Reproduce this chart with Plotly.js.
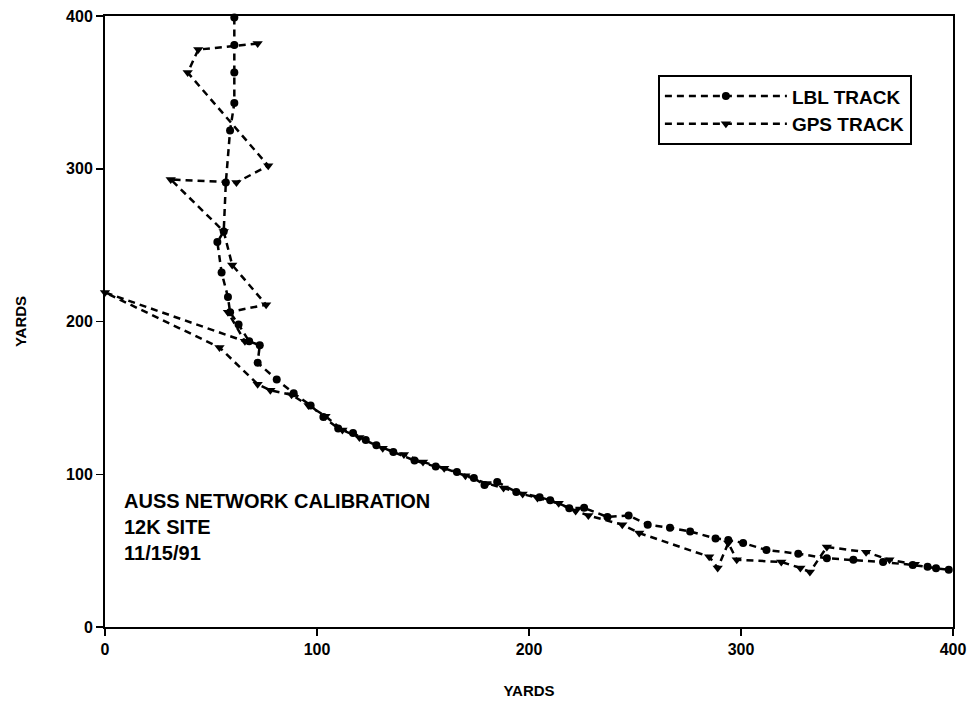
<!DOCTYPE html>
<html>
<head>
<meta charset="utf-8">
<script src="https://cdn.plot.ly/plotly-3.0.1.min.js"></script>
<style>
  html, body { margin: 0; padding: 0; background: #fff; }
  #chart { width: 971px; height: 707px; }
</style>
</head>
<body>
<div id="chart"></div>
<script>
// LBL acoustic navigation fixes (yards east / yards north)
const lblX = [61, 61, 61, 61, 59, 57, 56, 53, 55, 58, 59, 63, 68, 73, 72, 81, 89, 97, 103, 110, 117, 123, 128, 136, 146, 156, 166, 174, 179, 185, 194, 205, 210, 219, 226, 237, 247, 256, 266.5, 276, 288, 294, 301, 312, 327, 340.5, 353, 367, 381, 388, 392, 398];
const lblY = [399, 381, 363, 343, 325, 291, 259, 252, 232, 216, 206, 198, 187, 184.5, 173, 162, 153, 145, 137.5, 130, 127, 122.4, 119, 114.6, 109, 105, 101.5, 97.5, 93, 95, 88.4, 85, 83, 77.8, 78, 72, 73, 67, 65, 62.5, 58, 57, 55, 50.4, 48, 45, 44, 42.5, 40.6, 39.5, 38.5, 37.4];

// GPS fixes (yards east / yards north)
const gpsX = [72, 44, 39, 77, 62, 31, 56, 60, 76, 58, 66, 0, 54, 72, 78, 88, 96, 104, 112, 120, 131, 141, 150, 160, 170, 180, 188, 197, 204, 214, 222, 228, 244, 252, 285, 289, 294, 298, 319, 328, 332.5, 340.5, 359, 370, 382];
const gpsY = [382, 378, 363, 302, 291, 293, 259, 237, 211, 206, 187, 219, 183, 159, 155, 152, 145, 138, 129, 124, 117, 113, 108, 104, 99, 94, 91, 87, 84.5, 81, 76, 73, 67, 61.5, 46, 38.6, 55, 44, 42.6, 38.6, 36, 52.4, 49, 44, 41];

const seriesNames = ['LBL TRACK', 'GPS TRACK'];
const xTicks = [0, 100, 200, 300, 400];
const yTicks = [0, 100, 200, 300, 400];
const noteLines = ['AUSS NETWORK CALIBRATION', '12K SITE', '11/15/91'];

const font = 'Liberation Sans, Arial, Helvetica, sans-serif';
const dashed = { color: '#000', width: 2.5, dash: '7px,5px' };

const traces = [
  {
    x: lblX, y: lblY, name: seriesNames[0], type: 'scatter', mode: 'lines+markers',
    line: dashed,
    marker: { symbol: 'circle', size: 8, color: '#000' },
    cliponaxis: false
  },
  {
    x: gpsX, y: gpsY, name: seriesNames[1], type: 'scatter', mode: 'lines+markers',
    line: dashed,
    marker: { symbol: 'triangle-down', size: 9, color: '#000' },
    cliponaxis: false
  }
];

const axisCommon = {
  showgrid: false, zeroline: false,
  showline: true, linecolor: '#000', linewidth: 2, mirror: true,
  ticks: 'outside', ticklen: 7, tickwidth: 1.5, tickcolor: '#000',
  tickfont: { family: font, size: 16, color: '#000', weight: 'bold' }
};

const layout = {
  width: 971, height: 707,
  margin: { l: 105, r: 18, t: 16, b: 80 },
  paper_bgcolor: '#fff', plot_bgcolor: '#fff',
  font: { family: font, color: '#000' },
  xaxis: Object.assign({}, axisCommon, {
    range: [0, 400], tickvals: xTicks, ticktext: xTicks.map(String),
    title: { text: 'YARDS', font: { family: font, size: 15, color: '#000', weight: 'bold' }, standoff: 28 }
  }),
  yaxis: Object.assign({}, axisCommon, {
    range: [0, 400], tickvals: yTicks, ticktext: yTicks.map(String),
    title: { text: 'YARDS', font: { family: font, size: 15, color: '#000', weight: 'bold' }, standoff: 36 }
  }),
  legend: {
    x: 0.652, y: 0.903, xanchor: 'left', yanchor: 'top',
    bgcolor: '#fff', bordercolor: '#000', borderwidth: 2,
    font: { family: font, size: 19, color: '#000', weight: 'bold' },
    itemwidth: 122, tracegroupgap: 0,
    entrywidth: 278, entrywidthmode: 'pixels'
  },
  annotations: [{
    xref: 'x', yref: 'y', x: 8, y: 91, xanchor: 'left', yanchor: 'top',
    text: noteLines.join('<br>'), align: 'left', showarrow: false,
    font: { family: font, size: 20, color: '#000', weight: 'bold' }
  }]
};

Plotly.newPlot('chart', traces, layout, { displayModeBar: false, staticPlot: true });
</script>
</body>
</html>
